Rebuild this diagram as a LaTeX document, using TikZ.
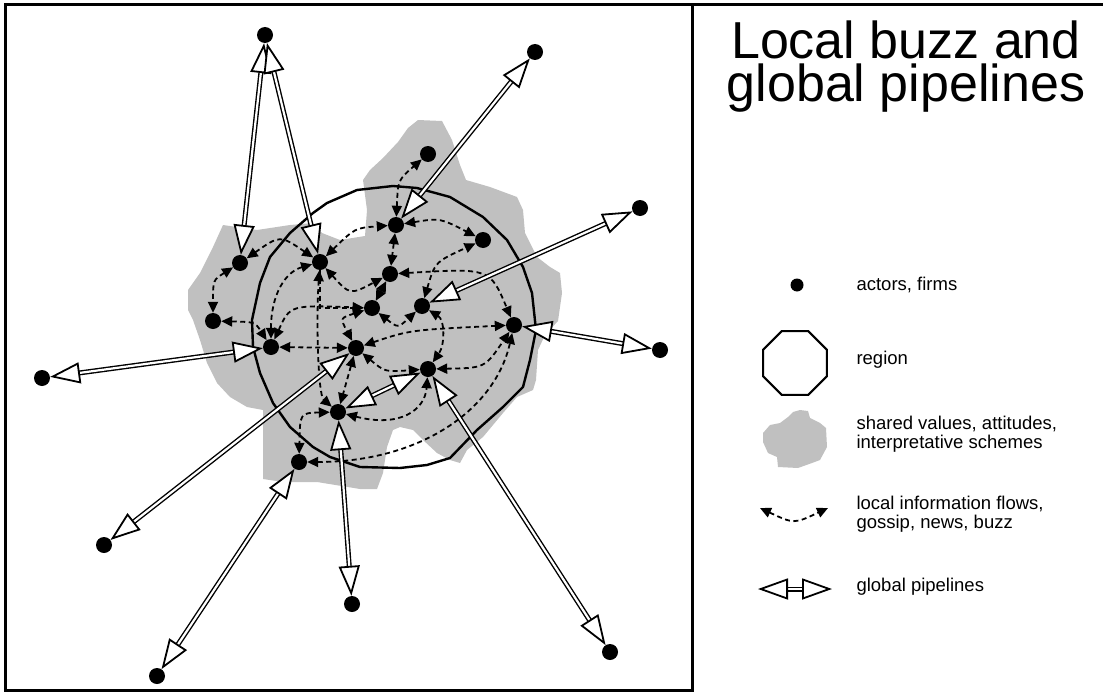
\documentclass[tikz,border=0pt]{standalone}
\usepackage{fontspec}
\setmainfont{Liberation Sans}
\usetikzlibrary{arrows.meta, shapes.geometric}

\definecolor{blobgray}{RGB}{192,192,192}

\tikzset{
    flowhead/.tip={Triangle[length=11pt, width=10pt]},
    pipehead/.tip={Triangle[fill=white, length=30pt, width=21pt, line width=1.8pt]},
    actor/.style={circle, fill=black, inner sep=0pt, minimum size=16pt},
    flow/.style={line width=1.8pt, dash pattern=on 5pt off 3.5pt, {flowhead}-{flowhead}},
    flowone/.style={line width=1.8pt, dash pattern=on 5pt off 3.5pt, -{flowhead}},
    pipeline/.style={line width=1.4pt, double=white, double distance=2.2pt, {pipehead}-{pipehead}},
    legendtext/.style={anchor=west, align=left, font=\fontsize{18.5}{19}\selectfont},
    titletext/.style={font=\fontsize{52}{52}\selectfont, inner sep=0pt},
}

\begin{document}
\begin{tikzpicture}[x=1pt, y=-1pt]
    \useasboundingbox (0,0) rectangle (1103,693);

    % frame
    \draw[line width=3pt] (1103,5) -- (5,5) -- (5,690) -- (692,690) -- (692,5);

    % shared values
    \fill[blobgray] (418,120) -- (442,121) -- (452,140) -- (460,165) -- (466,180)
        -- (490,187) -- (517,197) -- (523,210) -- (525,233) -- (537,257) -- (550,267)
        -- (560,273) -- (562,293) -- (558,321) -- (545,335) -- (538,350) -- (536,380)
        -- (533,390) -- (517,397) -- (503,413) -- (483,437) -- (467,450) -- (460,463)
        -- (450,460) -- (437,453) -- (423,440) -- (413,430) -- (400,427) -- (393,430)
        -- (387,447) -- (383,473) -- (377,489) -- (360,489) -- (317,482) -- (283,482)
        -- (263,479) -- (263,410) -- (247,407) -- (230,397) -- (217,383) -- (207,363)
        -- (200,340) -- (193,320) -- (188,310) -- (188,290) -- (200,273) -- (213,247)
        -- (223,225) -- (257,230) -- (290,225) -- (313,223) -- (322,233) -- (340,240)
        -- (365,236) -- (367,210) -- (363,180) -- (370,170) -- (383,158) -- (398,142)
        -- (408,128) -- cycle;

    % region
    \draw[line width=2.4pt] (357,190) -- (393,186) -- (417,188) -- (450,197) -- (483,217)
        -- (507,240) -- (523,267) -- (532,293) -- (536,330) -- (530,360) -- (523,387)
        -- (503,407) -- (477,430) -- (450,458) -- (427,465) -- (400,468) -- (360,467)
        -- (330,457) -- (313,447) -- (290,427) -- (273,403) -- (260,373) -- (253,347)
        -- (252,320) -- (260,283) -- (270,257) -- (290,233) -- (313,213) -- (327,203)
        -- cycle;

    % actors
    \node[actor] (A) at (240,263) {};
    \node[actor] (B) at (320,262) {};
    \node[actor] (C) at (428,154) {};
    \node[actor] (D) at (396,225) {};
    \node[actor] (E) at (483,240) {};
    \node[actor] (F) at (390,274) {};
    \node[actor] (G) at (372,308) {};
    \node[actor] (H) at (422,306) {};
    \node[actor] (I) at (514,325) {};
    \node[actor] (J) at (213,321) {};
    \node[actor] (K) at (271,347) {};
    \node[actor] (L) at (356,348) {};
    \node[actor] (M) at (428,369) {};
    \node[actor] (N) at (338,412) {};
    \node[actor] (O) at (299,462) {};

    \node[actor] (T1) at (265,35) {};
    \node[actor] (T2) at (535,52) {};
    \node[actor] (T3) at (640,208) {};
    \node[actor] (T4) at (660,350) {};
    \node[actor] (T5) at (610,652) {};
    \node[actor] (T6) at (352,604) {};
    \node[actor] (T7) at (157,676) {};
    \node[actor] (T8) at (104,545) {};
    \node[actor] (T9) at (42,378) {};

    % local buzz
    \draw[flow] (D) .. controls (398,180) .. (C);
    \draw[flow] (B) .. controls (355,228) .. (D);
    \draw[flow] (D) .. controls (440,218) .. (E);
    \draw[flow] (D) -- (F);
    \draw[flow] (F) .. controls (490,268) .. (I);
    \draw[flow] (H) .. controls (435,262) .. (E);
    \draw[flow] (A) .. controls (280,235) .. (B);
    \draw[flow] (A) .. controls (213,280) .. (J);
    \draw[flow] (J) .. controls (255,322) .. (K);
    \draw[flow] (K) .. controls (271,295) and (285,272) .. (B);
    \draw[flow] (K) -- (L);
    \draw[flow] (B) .. controls (316,320) and (318,395) .. (N);
    \draw[flowone] (B) |- (G);
    \draw[flow] (B) .. controls (350,295) .. (F);
    \draw[flow] (K) .. controls (290,305) .. (G);
    \draw[flow] (G) .. controls (340,318) .. (L);
    \draw[flow] (G) .. controls (398,328) .. (H);
    \draw[flow] (F) -- (G);
    \draw[flow] (L) .. controls (410,330) .. (I);
    \draw[flow] (H) .. controls (445,320) and (445,345) .. (M);
    \draw[flow] (L) .. controls (385,372) .. (M);
    \draw[flow] (M) .. controls (485,368) .. (I);
    \draw[flow] (L) -- (N);
    \draw[flow] (N) .. controls (400,428) and (425,410) .. (M);
    \draw[flow] (N) .. controls (300,413) .. (O);
    \draw[flow] (O) .. controls (420,462) and (495,410) .. (I);

    % global pipelines
    \draw[pipeline] (A) -- (T1);
    \draw[pipeline] (B) -- (T1);
    \draw[pipeline] (D) -- (T2);
    \draw[pipeline] (H) -- (T3);
    \draw[pipeline] (I) -- (T4);
    \draw[pipeline] (M) -- (T5);
    \draw[pipeline] (N) -- (T6);
    \draw[pipeline] (O) -- (T7);
    \draw[pipeline] (L) -- (T8);
    \draw[pipeline] (K) -- (T9);
    \draw[pipeline] (N) -- (M);

    % title
    \node[titletext, anchor=base] (title1) at (906,59) {Local buzz and};
    \node[titletext, anchor=base] (title2) at (906,101) {global pipelines};

    % legend
    \node[actor, minimum size=13pt] (actorkey) at (797,285) {};
    \node[legendtext] (actortext) at (853,285) {actors, firms};

    \node[regular polygon, regular polygon sides=8, draw, line width=2.2pt, minimum size=69pt] (regionkey) at (795,363) {};
    \node[legendtext] (regiontext) at (853,360) {region};

    \fill[blobgray] (800,410) -- (808,411) -- (810,418) -- (820,423) -- (826,428) -- (827,447)
        -- (820,460) -- (812,463) -- (798,468) -- (778,467) -- (777,457) -- (768,453)
        -- (763,442) -- (763,433) -- (770,425) -- (780,423) -- (788,417) -- (793,412) -- cycle;
    \node[legendtext] (blobtext) at (853,434) {shared values, attitudes,\\interpretative schemes};

    \coordinate (flowa) at (760,508);
    \coordinate (flowb) at (828,508);
    \draw[flow] (flowa) .. controls (794,524) .. (flowb);
    \node[legendtext] (flowtext) at (853,514) {local information flows,\\gossip, news, buzz};

    \coordinate (pipea) at (758,589);
    \coordinate (pipeb) at (832,589);
    \draw[pipeline] (pipea) -- (pipeb);
    \node[legendtext] (pipetext) at (853,587) {global pipelines};
\end{tikzpicture}
\end{document}
